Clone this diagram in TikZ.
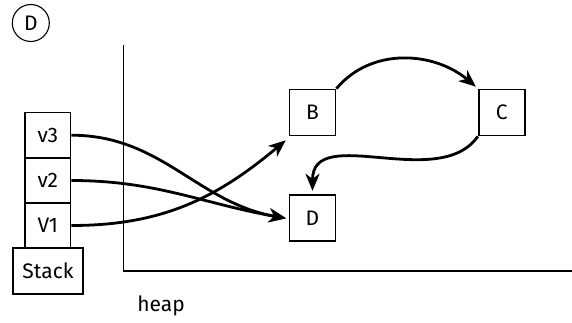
\documentclass[tikz,border=0pt]{standalone}
\usepackage{fontspec}
\setmainfont{Fira Sans}
\usetikzlibrary{arrows.meta}
\begin{document}
\begin{tikzpicture}[x=0.5pt,y=-0.5pt,
  txt/.style={font=\fontsize{10.5}{12}\selectfont},
  box/.style={draw,line width=0.85pt,minimum width=23pt,minimum height=23pt,inner sep=0pt,txt},
  cell/.style={draw,line width=0.85pt,minimum width=22.8pt,minimum height=22.6pt,inner sep=0pt,txt},
  link/.style={line width=1.4pt,-{Stealth[length=8.5pt,width=7pt,inset=2.5pt]}},
  axis/.style={line width=0.6pt}]
\useasboundingbox (0,0) rectangle (572,322);
\node[draw,circle,line width=0.55pt,minimum size=18.5pt,inner sep=0pt,txt] (lab) at (30.8,23) {D};
\coordinate (ytop) at (123.5,45);
\coordinate (orig) at (123.5,271);
\coordinate (xend) at (572,271);
\draw[axis] (ytop) -- (orig) -- (xend);
\node[cell] (v3) at (47.8,135.2) {v3};
\node[cell] (v2) at (47.8,180.5) {v2};
\node[cell] (v1) at (47.8,225.5) {V1};
\node[box,minimum width=35.3pt,minimum height=23.3pt] (stack) at (48,271) {Stack};
\node[box] (B) at (312.5,112.5) {B};
\node[box] (C) at (501.7,112.5) {C};
\node[box] (D) at (312.5,218.3) {D};
\node[txt] (heap) at (161,306) {heap};
\draw[link] (v3.east) to[out=0,in=170] ([xshift=-1.3pt]D.west);
\draw[link] (v2.east) to[out=0,in=170] ([xshift=-1.3pt]D.west);
\draw[link] (v1.east) to[out=0,in=220] ([xshift=-1.5pt,yshift=-2pt]B.south west);
\draw[link] (B.north east) to[out=50,in=140] ([xshift=-1pt,yshift=1pt]C.north west);
\draw[link] (C.south west) to[out=-125,in=90] ([yshift=1.8pt]D.north);
\end{tikzpicture}
\end{document}
